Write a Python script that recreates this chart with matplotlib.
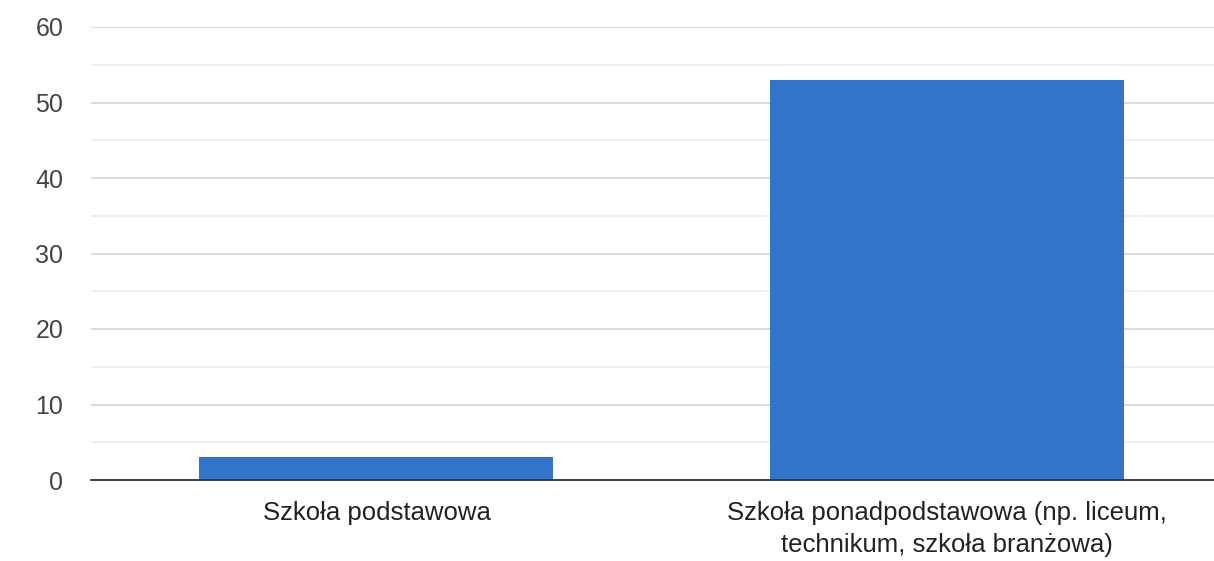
import matplotlib.pyplot as plt
from matplotlib.ticker import MultipleLocator

plt.rcParams['font.family'] = ['Liberation Sans', 'DejaVu Sans']

# values
categories = ['Szkoła podstawowa',
              'Szkoła ponadpodstawowa (np. liceum,\ntechnikum, szkoła branżowa)']
counts = [3, 53]

fig = plt.figure(figsize=(12.14, 5.61), dpi=100)
ax = fig.add_axes([91/1214, 81/561, 1 - 91/1214, (480 - 27)/561])

x = list(range(len(categories)))
ax.bar(x, counts, width=0.62, color='#3174c9', zorder=3)

ax.set_xlim(-0.5, 1.467)
ax.set_ylim(0, 60)
ax.yaxis.set_major_locator(MultipleLocator(10))
ax.yaxis.set_minor_locator(MultipleLocator(5))
ax.grid(axis='y', which='major', color='#d4d4d4', linewidth=1.2, zorder=0)
ax.grid(axis='y', which='minor', color='#ececec', linewidth=1.2, zorder=0)

for s in ['top', 'right', 'left']:
    ax.spines[s].set_visible(False)
ax.spines['bottom'].set_color('#333333')
ax.spines['bottom'].set_linewidth(1.3)
ax.spines['bottom'].set_zorder(4)

ax.set_xticks(x)
ax.set_xticklabels(categories, fontsize=18.5, color='#222222', linespacing=1.45)
ax.tick_params(axis='x', length=0, pad=15)
ax.tick_params(axis='y', which='both', length=0, pad=20, labelsize=18,
               labelcolor='#444444')

plt.savefig('out.png', dpi=100)
